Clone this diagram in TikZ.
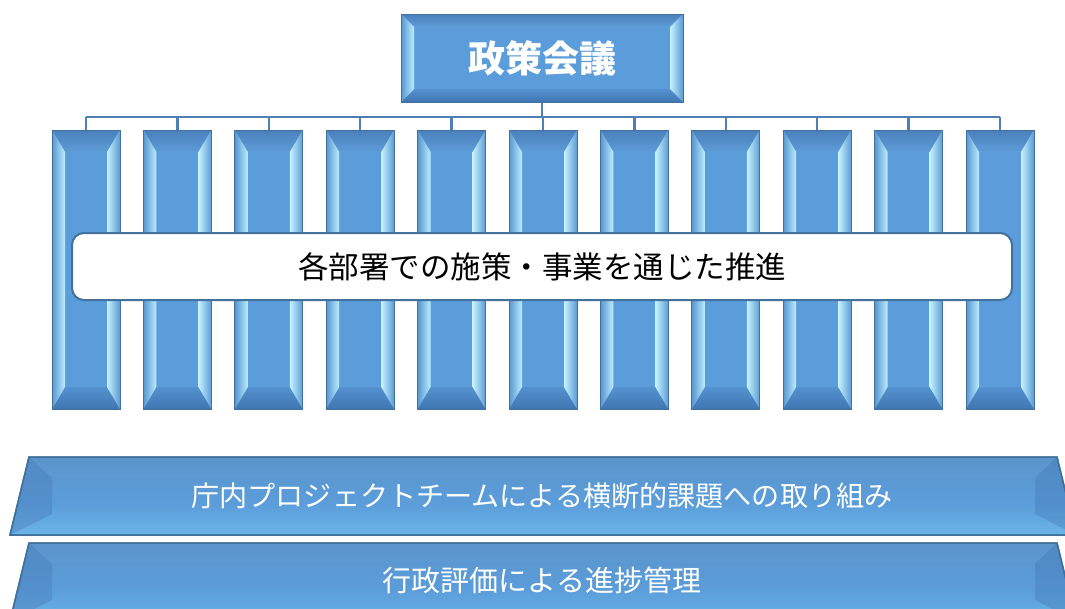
\documentclass[tikz,border=0pt]{standalone}
\usepackage{fontspec}
\setmainfont{Noto Sans CJK JP}
\usetikzlibrary{calc}
\definecolor{face}{HTML}{5B9DDA}
\definecolor{edge}{HTML}{41719C}
\definecolor{conn}{HTML}{4E80B5}
\definecolor{bvtopA}{HTML}{4A80BC}
\definecolor{bvtopB}{HTML}{5E9DD8}
\definecolor{bvbotA}{HTML}{5592CF}
\definecolor{bvbotB}{HTML}{3F76B2}
\definecolor{bvlA}{HTML}{5896D0}
\definecolor{bvlB}{HTML}{BDEEFF}
\definecolor{bvrA}{HTML}{C6F3FF}
\definecolor{bvrB}{HTML}{5A9AD4}
\definecolor{bbot}{HTML}{3E6FA0}
\definecolor{bhl}{HTML}{8FD8F8}
\definecolor{bmidA}{HTML}{6BB5E8}
\definecolor{bmid}{HTML}{5B9DDA}
\definecolor{bupper}{HTML}{5C93C9}
\definecolor{btop}{HTML}{5585BC}
\pgfdeclareverticalshading{barsh}{100bp}{color(0bp)=(bbot); color(6bp)=(bmid); color(17bp)=(bhl); color(25bp)=(bmidA); color(45bp)=(bmid); color(80bp)=(bupper); color(100bp)=(btop)}
\newcommand\mybevel[2]{%
  \coordinate (pA) at (path picture bounding box.south west);
  \coordinate (pB) at (path picture bounding box.north east);
  \coordinate (pC) at (pA|-pB);
  \coordinate (pD) at (pB|-pA);
  \coordinate (qA) at ($(pA)+(#1,#2)$);
  \coordinate (qB) at ($(pB)+(-#1,-#2)$);
  \coordinate (qC) at (qA|-qB);
  \coordinate (qD) at (qB|-qA);
  \shade[top color=bvtopA,bottom color=bvtopB] (pC)--(pB)--(qB)--(qC)--cycle;
  \shade[top color=bvbotA,bottom color=bvbotB] (qA)--(qD)--(pD)--(pA)--cycle;
  \shade[left color=bvlA,right color=bvlB] (pA)--(qA)--(qC)--(pC)--cycle;
  \shade[left color=bvrA,right color=bvrB] (qD)--(pD)--(pB)--(qB)--cycle;
}
\tikzset{
  colbox/.style={minimum width=68pt, minimum height=279pt, inner sep=0pt,
    draw=edge, line width=1pt, fill=face, path picture={\mybevel{13pt}{22pt}}},
  topbox/.style={minimum width=282pt, minimum height=88pt, inner sep=0pt,
    draw=edge, line width=1pt, fill=face, text=white,
    font=\fontsize{37}{40}\selectfont\bfseries, path picture={\mybevel{13pt}{13pt}}},
  whitebox/.style={minimum width=940pt, minimum height=67pt, inner sep=0pt,
    draw=edge, line width=2pt, fill=white, rounded corners=12pt,
    font=\fontsize{30.5}{33}\selectfont},
  bar/.style={shading=barsh, draw=edge, line width=1.5pt},
  bartext/.style={text=white, inner sep=0pt},
  connector/.style={draw=conn, line width=2.5pt},
}
\begin{document}
\begin{tikzpicture}[x=1pt,y=-1pt]
\clip (0,0) rectangle (1065,608);
\fill[white] (0,0) rectangle (1065,608);
% top box
\node[topbox] (top) at (542,58) {政策会議};
% columns
\foreach \i in {1,...,11}{
  \pgfmathsetmacro\cx{86+91.4*(\i-1)}
  \node[colbox] (c\i) at (\cx,269.5) {};
}
\coordinate (bus) at (542,117);
\draw[connector] (top.south) -- (top.south |- bus);
\draw[connector] (c1.north |- bus) -- (c11.north |- bus);
\foreach \i in {1,...,11}{
  \draw[connector] (c\i.north |- bus) -- (c\i.north);
}
% middle white box
\node[whitebox] (mid) at (542,266.5) {各部署での施策・事業を通じた推進};
% bars
\coordinate (b1tl) at (29,457); \coordinate (b1tr) at (1057,457);
\coordinate (b1br) at (1076,535); \coordinate (b1bl) at (10,535);
\path[bar] (b1tl) -- (b1tr) -- (b1br) -- (b1bl) -- cycle;
\fill[bvtopA, opacity=0.45] (b1tl) -- (52,478) -- (52,514) -- (b1bl) -- cycle;
\fill[bvbotB, opacity=0.35] (b1tr) -- (1035,478) -- (1035,514) -- (b1br) -- cycle;
\draw[edge, line width=1.5pt] (b1tl) -- (b1tr) -- (b1br) -- (b1bl) -- cycle;
\node[bartext, font=\fontsize{28.1}{31}\selectfont] (bar1) at (542,496) {庁内プロジェクトチームによる横断的課題への取り組み};
\coordinate (b2tl) at (29,543); \coordinate (b2tr) at (1057,543);
\coordinate (b2br) at (1076,621); \coordinate (b2bl) at (10,621);
\path[bar] (b2tl) -- (b2tr) -- (b2br) -- (b2bl) -- cycle;
\fill[bvtopA, opacity=0.45] (b2tl) -- (52,564) -- (52,600) -- (b2bl) -- cycle;
\fill[bvbotB, opacity=0.35] (b2tr) -- (1035,564) -- (1035,600) -- (b2br) -- cycle;
\draw[edge, line width=1.5pt] (b2tl) -- (b2tr) -- (b2br) -- (b2bl) -- cycle;
\node[bartext, font=\fontsize{29}{32}\selectfont] (bar2) at (542,580) {行政評価による進捗管理};
\end{tikzpicture}
\end{document}
